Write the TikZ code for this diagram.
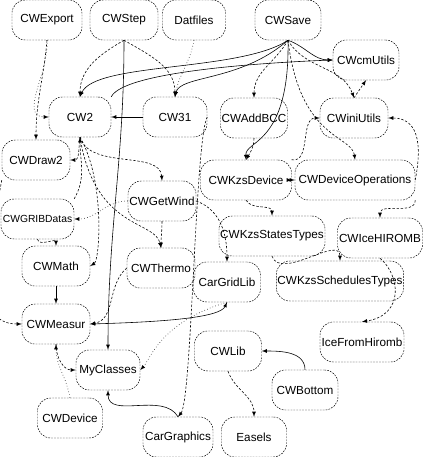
\documentclass[tikz,border=0pt]{standalone}
\usepackage{fontspec}
\setmainfont{Liberation Sans}
\usepackage{tikz}
\usetikzlibrary{arrows}

\begin{document}
\begin{tikzpicture}[x=0.03cm,y=-0.03cm,
  mod/.style={draw,rounded corners=0.4cm,dash pattern=on 1.5pt off 1pt,
    minimum height=1.2cm,inner sep=1pt,font=\fontsize{10}{12}\selectfont},
  solidarr/.style={-latex,line width=0.5pt},
  dasharr/.style={-latex,line width=0.5pt,dash pattern=on 2pt off 1.5pt},
  dotarr/.style={-latex,line width=0.5pt,dotted}]
				\useasboundingbox (0,0) rectangle (425,457);
				% modules
				\foreach \n/\x/\y/\w in {CWExport/47/20/70, CWStep/124/20/68, Datfiles/194/20/63,
				  CWSave/288/20/66, CWcmUtils/366/60/66, CW2/80/117/62, CW31/175/117/64,
				  CWAddBCC/254/118/64, CWiniUtils/354/118/68, CWDraw2/36/160/68,
				  CWKzsDevice/246/180/91, CWDeviceOperations/355/180/120,
				  CWGetWind/162/201/68, CWKzsStatesTypes/272/236/106, CWIceHIROMB/380/238/85,
				  CWMath/56/266/68, CWThermo/161/268/68, CarGridLib/227/282/67,
				  CWKzsSchedulesTypes/340/281/125, CWMeasur/56/324/68, IceFromHiromb/362/342/84,
				  CWLib/228/351/67, MyClasses/108/370/64, CWBottom/305/390/66,
				  CWDevice/70/418/65, CarGraphics/178/437/70, Easels/254/437/65}
				{\node[mod,minimum width=\w*0.03cm] (\n) at (\x,\y) {\n};}
				\node[mod,minimum width=73*0.03cm,font=\fontsize{8.8}{11}\selectfont] (CWGRIBDatas) at (37.5,219) {CWGRIBDatas};
				% dependencies from the top row
				\draw[dasharr] (CWExport.south) to[out=-95,in=90] (CWDraw2.north);
				\draw[dotarr] (CWExport.south) to[out=-85,in=180] (CW2.west);
				\draw[dasharr] (CWStep.south) to[out=-150,in=90] (CW2.north);
				\draw[dasharr] (CWStep.south) to[out=-30,in=90] (CW31.north);
				\draw[solidarr] (CWStep.south) to[out=-90,in=90] (MyClasses.north);
				\draw[dotarr] (Datfiles.south) to[out=-100,in=80] (CW31.north);
				\draw[solidarr] (CWSave.south) .. controls (240,72) and (95,62) .. (CW2.north);
				\draw[solidarr] (CWSave.south) .. controls (240,82) and (180,75) .. (CW31.north);
				\draw[solidarr] (CWSave.south) to[out=-20,in=180] (CWcmUtils.west);
				\draw[dasharr] (CWSave.south) to[out=-120,in=90] (CWAddBCC.north);
				\draw[dasharr] (CWSave.south) to[out=-60,in=110] (CWiniUtils.north);
				\draw[solidarr] (CWSave.south) .. controls (290,145) and (245,140) .. (CWKzsDevice.north);
				\draw[dasharr] (CWSave.south) .. controls (300,140) and (352,135) .. (CWDeviceOperations.north);
				\draw[solidarr] (CW2.north east) .. controls (125,70) and (280,62) .. (CWcmUtils.west);
				\draw[dasharr] (CWiniUtils.north) -- (CWcmUtils.south);
				% right part
				\draw[dasharr] (CWAddBCC.south) to[out=-90,in=60] (CWKzsDevice.north);
				\draw[dasharr] (CWKzsDevice.north east) to[out=-10,in=180] (CWiniUtils.west);
				\draw[dasharr] (CWDeviceOperations.east) .. controls (425,130) and (410,118) .. (CWiniUtils.east);
				\draw[latex-latex,line width=0.5pt] (CWKzsDevice.east) -- (CWDeviceOperations.west);
				\draw[dasharr] (CWKzsDevice.south) to[out=-60,in=90] (CWKzsStatesTypes.north);
				\draw[dasharr] (CWKzsStatesTypes.south) to[out=-70,in=90] (CWKzsSchedulesTypes.north);
				\draw[dasharr] (CWDeviceOperations.south east) to[out=-90,in=90] (CWIceHIROMB.north);
				\draw[dasharr] (CWIceHIROMB.south) .. controls (400,275) and (405,315) .. (IceFromHiromb.north);
				\draw[dasharr] (CWGetWind.east) to[out=-20,in=90] (CarGridLib.north);
				% left part
				\draw[solidarr] (CW31.west) -- (CW2.east);
				\draw[dasharr] (CW2.south) to[out=-100,in=0] (CWDraw2.east);
				\draw[dasharr] (CW2.south) .. controls (90,170) and (160,150) .. (CWGetWind.north);
				\draw[dasharr] (CW2.south) .. controls (95,230) and (155,220) .. (CWThermo.north);
				\draw[dasharr] (CW2.south) .. controls (105,180) and (100,260) .. (CWMath.east);
				\draw[dasharr] (CWGRIBDatas.north east) to[out=60,in=-90] (CW2.south);
				\draw[dotarr] (CWGetWind.west) to[out=180,in=0] (CWGRIBDatas.east);
				\draw[dasharr] (CWGetWind.south) to[out=-90,in=90] (CWThermo.north);
				\draw[dasharr] (CWGRIBDatas.south) to[out=-80,in=90] (CWMath.north);
				\draw[solidarr] (CWMath.south) -- (CWMeasur.north);
				\draw[dasharr] (CWDraw2.south west) to[out=-100,in=180] (CWMeasur.west);
				\draw[dasharr] (CWThermo.west) to[out=220,in=10] (CWMeasur.east);
				\draw[latex-latex,line width=0.5pt] (CWMeasur.east) .. controls (160,322) and (220,318) .. (CarGridLib.south);
				\draw[dotarr] (CarGridLib.south) .. controls (160,322) and (150,360) .. (MyClasses.east);
				% bottom part
				\draw[dotarr] (CWDevice.north) to[out=100,in=-90] (CWMeasur.south);
				\draw[dasharr] (CWMeasur.south) to[out=-90,in=180] (MyClasses.west);
				\draw[solidarr] (CarGraphics.north) to[out=120,in=-90] (MyClasses.south);
				\draw[dasharr] (CW31.east) .. controls (195,140) and (192,400) .. (CarGraphics.north);
				\draw[solidarr] (CWBottom.north) to[out=90,in=0] (CWLib.east);
				\draw[dasharr] (CWLib.south) to[out=-70,in=90] (Easels.north);
	\end{tikzpicture}
\end{document}
